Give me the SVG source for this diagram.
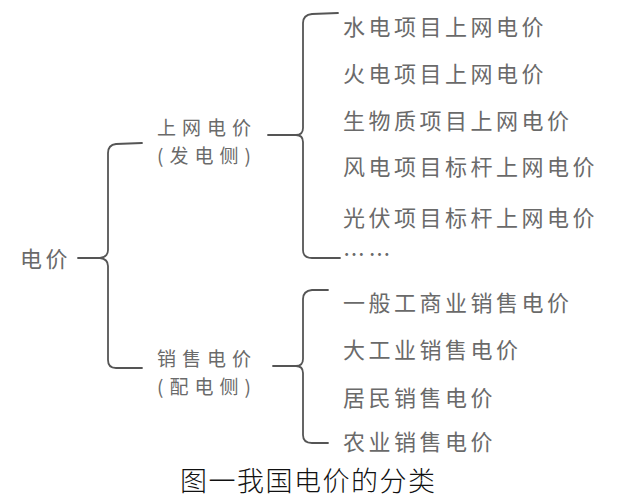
<svg xmlns="http://www.w3.org/2000/svg" width="633" height="500" viewBox="0 0 633 500">
<style>
.t{font-family:"Noto Sans CJK SC","Noto Sans",sans-serif;font-size:22px;fill:#6a6a6a;letter-spacing:3.5px;dominant-baseline:central}
.t2{font-family:"Noto Sans CJK SC","Noto Sans",sans-serif;font-size:19px;fill:#6a6a6a;letter-spacing:6px;dominant-baseline:central}
.cap{font-family:"Liberation Serif","Noto Sans CJK SC",serif;font-size:27px;font-weight:300;fill:#111;letter-spacing:1.5px;dominant-baseline:central}
.br{fill:none;stroke:#555;stroke-width:1.8;stroke-linejoin:round;stroke-linecap:round}
</style>
<rect width="633" height="500" fill="#fff"/>
<g id="connectors">
<path class="br" d="M142,143 L116,144 Q108,145 108,153 L108,250 Q108,257 100,258 L78,258 M100,258 Q108,259 108,266 L108,360 Q108,368 116,368 L142,368"/>
<path class="br" d="M338,13 L312,14 Q303,15 303,23 L303,128 Q303,135 296,135 L268,135 M296,135 Q303,135 303,142 L303,250 Q303,258 312,258 L340,258"/>
<path class="br" d="M328,290 L312,290 Q303,291 303,299 L303,359 Q303,366 296,366 L273,366 M296,366 Q303,366 303,373 L303,435 Q303,443 312,443 L328,443"/>
</g>
<g id="root"><text class="t" x="20" y="257">电价</text></g>
<g id="grid"><text class="t2" x="157" y="126">上网电价</text><text class="t2" x="157" y="154">(发电侧)</text></g>
<g id="sales"><text class="t2" x="157" y="357">销售电价</text><text class="t2" x="157" y="385">(配电侧)</text></g>
<g id="g1"><text class="t" x="343" y="25">水电项目上网电价</text></g>
<g id="g2"><text class="t" x="343" y="72">火电项目上网电价</text></g>
<g id="g3"><text class="t" x="343" y="119">生物质项目上网电价</text></g>
<g id="g4"><text class="t" x="343" y="165">风电项目标杆上网电价</text></g>
<g id="g5"><text class="t" x="343" y="216">光伏项目标杆上网电价</text></g>
<g id="g6"><text class="t" x="343" y="252">……</text></g>
<g id="s1"><text class="t" x="343" y="301">一般工商业销售电价</text></g>
<g id="s2"><text class="t" x="343" y="348">大工业销售电价</text></g>
<g id="s3"><text class="t" x="343" y="396">居民销售电价</text></g>
<g id="s4"><text class="t" x="343" y="440">农业销售电价</text></g>
<g id="caption"><text class="cap" x="180" y="482">图一我国电价的分类</text></g>
</svg>
